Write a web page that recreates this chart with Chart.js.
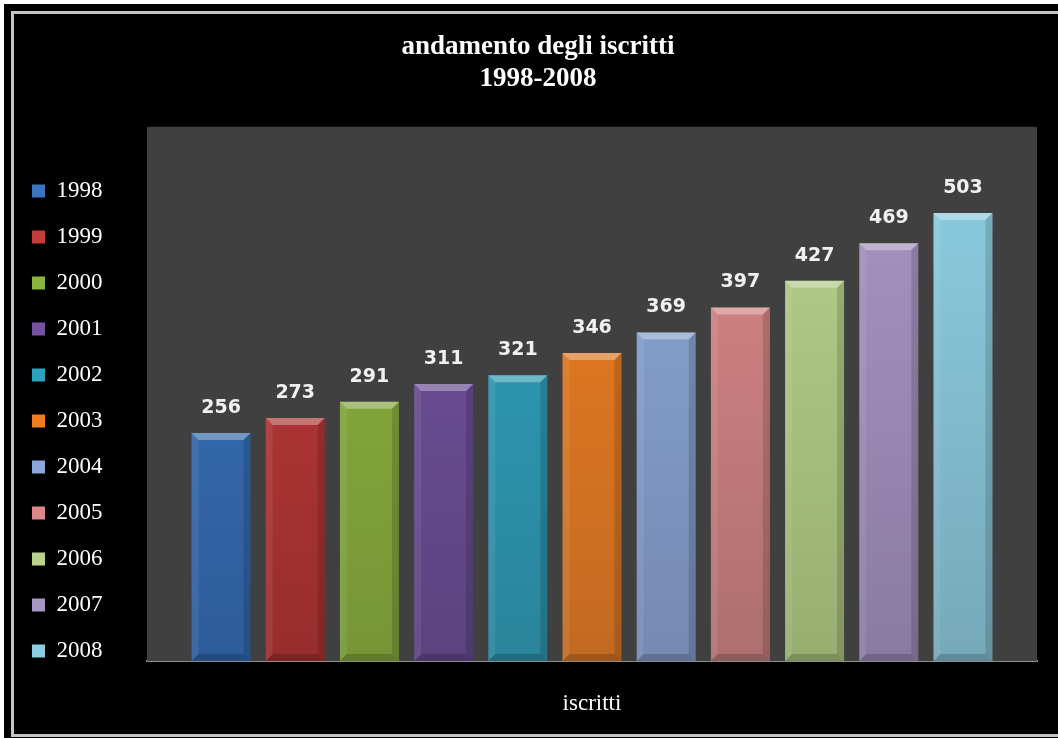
<!DOCTYPE html>
<html>
<head>
<meta charset="utf-8">
<script src="https://cdn.jsdelivr.net/npm/chart.js@4.4.0/dist/chart.umd.min.js"></script>
<style>
  html, body { margin: 0; padding: 0; background: #fff; overflow: hidden; width: 1058px; height: 738px; }
  #frame { position: absolute; left: 4px; top: 4px; width: 1070px; height: 740px; background: #000; }
  #inner { position: absolute; left: 11px; top: 11px; width: 1070px; height: 726px; box-sizing: border-box;
           border: 3px solid #c4c4c4; border-right: none; }
  #chart { position: absolute; left: 0; top: 0; width: 1068px; height: 738px; }
</style>
</head>
<body>
<div id="frame"></div>
<div id="inner"></div>
<canvas id="chart" width="1068" height="738"></canvas>
<script>
const categories = ['iscritti'];
const years = ['1998', '1999', '2000', '2001', '2002', '2003', '2004', '2005', '2006', '2007', '2008'];
const iscritti = [256, 273, 291, 311, 321, 346, 369, 397, 427, 469, 503];
const colors = ['#3b74bf', '#c33b3b', '#8db33f', '#7452a0', '#2ea3c0', '#f07e1f',
                '#8aa8d8', '#dc8888', '#b9d28e', '#a896c4', '#8dcfe2'];
const darkColors = ['#2d5c9a', '#982d2d', '#769636', '#5b4380', '#2a849b', '#c26a22',
                    '#7589b3', '#ae6f6f', '#97ae70', '#8a7ba2', '#76a9b9'];
const yMax = 600;

function barFill(ctx, i) {
  const area = ctx.chart.chartArea;
  if (!area) return colors[i];
  const g = ctx.chart.ctx.createLinearGradient(0, area.top, 0, area.bottom);
  g.addColorStop(0, colors[i]);
  g.addColorStop(1, darkColors[i]);
  return g;
}

// grey plot area; title centred over the whole frame, not only right of the legend
const plotBg = {
  id: 'plotBg',
  afterLayout(chart) {
    const t = chart.titleBlock;
    if (t) { t.left = 39; t.width = t.right - t.left; }
  },
  beforeDatasetsDraw(chart) {
    const { ctx, chartArea: a } = chart;
    ctx.save();
    ctx.fillStyle = '#404040';
    ctx.fillRect(a.left, a.top, a.right - a.left, a.bottom - a.top);
    ctx.restore();
  }
};

// bevel edges and value labels
const bevel = {
  id: 'bevel',
  afterDatasetsDraw(chart) {
    const ctx = chart.ctx;
    chart.data.datasets.forEach((ds, i) => {
      chart.getDatasetMeta(i).data.forEach((bar, j) => {
        const { x, y, base, width } = bar.getProps(['x', 'y', 'base', 'width'], true);
        const l = x - width / 2, r = x + width / 2, b = 7;
        ctx.save();
        ctx.fillStyle = 'rgba(255,255,255,0.32)';
        ctx.beginPath();
        ctx.moveTo(l, y); ctx.lineTo(r, y); ctx.lineTo(r - b, y + b); ctx.lineTo(l + b, y + b);
        ctx.closePath(); ctx.fill();
        ctx.fillStyle = 'rgba(255,255,255,0.08)';
        ctx.beginPath();
        ctx.moveTo(l, y); ctx.lineTo(l + b, y + b); ctx.lineTo(l + b, base - b); ctx.lineTo(l, base);
        ctx.closePath(); ctx.fill();
        ctx.fillStyle = 'rgba(0,0,0,0.14)';
        ctx.beginPath();
        ctx.moveTo(r, y); ctx.lineTo(r - b, y + b); ctx.lineTo(r - b, base - b); ctx.lineTo(r, base);
        ctx.closePath(); ctx.fill();
        ctx.fillStyle = 'rgba(0,0,0,0.18)';
        ctx.beginPath();
        ctx.moveTo(l, base); ctx.lineTo(l + b, base - b); ctx.lineTo(r - b, base - b); ctx.lineTo(r, base);
        ctx.closePath(); ctx.fill();

        ctx.fillStyle = '#f0f0f0';
        ctx.font = 'bold 19px "DejaVu Sans"';
        ctx.textAlign = 'center';
        ctx.textBaseline = 'middle';
        ctx.fillText(String(ds.data[j]), x, y - 25);
        ctx.restore();
      });
    });
  }
};

new Chart(document.getElementById('chart'), {
  type: 'bar',
  data: {
    labels: categories,
    datasets: years.map((y, i) => ({
      label: y,
      data: [iscritti[i]],
      backgroundColor: (ctx) => barFill(ctx, i),
      borderWidth: 0,
      categoryPercentage: 0.917,
      barPercentage: 0.795
    }))
  },
  options: {
    responsive: false,
    animation: false,
    layout: { padding: { left: 9, right: 31, top: 0, bottom: 23 } },
    plugins: {
      title: {
        display: true,
        text: ['andamento degli iscritti', '1998-2008'],
        color: '#fff',
        font: { family: '"Liberation Serif"', size: 27, weight: 'bold', lineHeight: 1.18 },
        padding: { top: 31, bottom: 32 }
      },
      legend: {
        position: 'left',
        title: { display: true, text: ' ', font: { size: 1 }, padding: { top: 64, bottom: 62 } },
        labels: {
          color: '#fff',
          font: { family: '"Liberation Serif"', size: 23 },
          boxWidth: 13,
          boxHeight: 13,
          padding: 23,
          generateLabels(chart) {
            return Chart.defaults.plugins.legend.labels.generateLabels(chart).map((it, i) => {
              it.fillStyle = colors[i];
              it.strokeStyle = colors[i];
              it.lineWidth = 0;
              it.fontColor = '#fff';
              return it;
            });
          }
        },
        onClick: null
      },
      tooltip: { enabled: false }
    },
    scales: {
      x: {
        grid: { display: false },
        border: { display: true, color: '#8c8c8c', width: 2 },
        ticks: { color: '#fff', padding: 21, font: { family: '"Liberation Serif"', size: 23 } },
        afterFit(scale) { scale.height = 54; }
      },
      y: {
        min: 0,
        max: yMax,
        grid: { display: false },
        border: { display: false },
        ticks: { display: false },
        afterFit(scale) {
          const lg = scale.chart.legend;
          const lw = (lg && lg.width) || 104;
          scale.width = Math.max(0, 147 - 9 - lw);
        }
      }
    }
  },
  plugins: [plotBg, bevel]
});
</script>
</body>
</html>
